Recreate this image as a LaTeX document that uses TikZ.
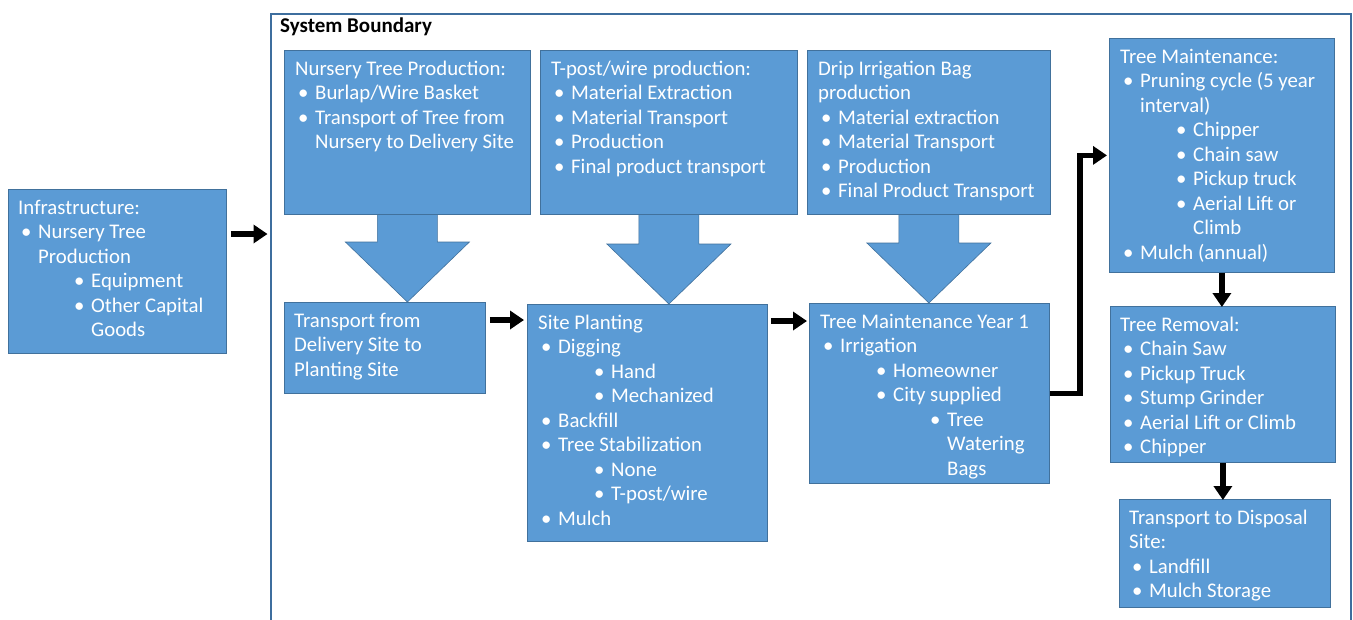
\documentclass[tikz,border=0pt]{standalone}
\usepackage{fontspec}
\setmainfont{Carlito}
\usetikzlibrary{arrows.meta,calc}
\definecolor{boxblue}{HTML}{5B9BD5}
\definecolor{boxedge}{HTML}{41719C}
\definecolor{bnd}{HTML}{3D6E9E}
\pgfdeclarelayer{background}
\pgfsetlayers{background,main}
\newcommand{\Ba}{\hspace*{3pt}\makebox[17pt][l]{•}}
\newcommand{\Ca}{\hspace*{20pt}}
\newcommand{\Bb}{\hspace*{56pt}\makebox[17pt][l]{•}}
\newcommand{\Cb}{\hspace*{73pt}}
\newcommand{\Bc}{\hspace*{110pt}\makebox[17pt][l]{•}}
\newcommand{\Cc}{\hspace*{127pt}}
\newcommand{\fstrut}{\rule{0pt}{16pt}}
\begin{document}
\begin{tikzpicture}[x=1pt,y=-1pt,
  box/.style={draw=boxedge, fill=boxblue, anchor=north west, inner sep=0pt, line width=0.8pt},
  txt/.style={anchor=north west, inner sep=0pt, align=left, text=white, font=\fontsize{20.8}{24.5}\selectfont},
  conn/.style={line width=5.5pt, black, -{Triangle[length=14pt,width=18pt]}},
  barrow/.style={fill=boxblue, draw=boxedge, line width=0.6pt}]
\useasboundingbox (0,0) rectangle (1353,619);

% system boundary
\node[draw=bnd, line width=2.8pt, anchor=north west, minimum width=1080pt, minimum height=640pt, inner sep=0pt] (boundary) at (269.5,12.5) {};
\node[anchor=west, inner sep=0pt, font=\bfseries\fontsize{21}{25}\selectfont] (title) at (280,27) {System Boundary};

% boxes
\node[box, minimum width=218pt, minimum height=164pt] (infra) at (8,189) {};
\node[box, minimum width=246pt, minimum height=164pt] (nursery) at (284,50) {};
\node[box, minimum width=257pt, minimum height=164pt] (tpost) at (540,50) {};
\node[box, minimum width=243pt, minimum height=164pt] (drip) at (807,50) {};
\node[box, minimum width=225pt, minimum height=234pt] (tm) at (1109,38) {};
\node[box, minimum width=201pt, minimum height=91pt] (trans) at (284,302) {};
\node[box, minimum width=240pt, minimum height=237pt] (site) at (527,304) {};
\node[box, minimum width=240pt, minimum height=180pt] (tmy) at (809,303) {};
\node[box, minimum width=225pt, minimum height=156pt] (rem) at (1110,306) {};
\node[box, minimum width=211pt, minimum height=108pt] (disp) at (1119,499) {};

% texts
\node[txt] (infra-t) at ([shift={(10,9)}]infra.north west) {\fstrut Infrastructure:\\
\Ba Nursery Tree\\ \Ca Production\\ \Bb Equipment\\ \Bb Other Capital\\ \Cb Goods};
\node[txt] (nursery-t) at ([shift={(11,9)}]nursery.north west) {\fstrut Nursery Tree Production:\\
\Ba Burlap/Wire Basket\\ \Ba Transport of Tree from\\ \Ca Nursery to Delivery Site};
\node[txt] (tpost-t) at ([shift={(11,9)}]tpost.north west) {\fstrut T-post/wire production:\\
\Ba Material Extraction\\ \Ba Material Transport\\ \Ba Production\\ \Ba Final product transport};
\node[txt] (drip-t) at ([shift={(11,9)}]drip.north west) {\fstrut Drip Irrigation Bag\\ production\\
\Ba Material extraction\\ \Ba Material Transport\\ \Ba Production\\ \Ba Final Product Transport};
\node[txt] (tm-t) at ([shift={(11,9)}]tm.north west) {\fstrut Tree Maintenance:\\
\Ba Pruning cycle (5 year\\ \Ca interval)\\ \Bb Chipper\\ \Bb Chain saw\\ \Bb Pickup truck\\ \Bb Aerial Lift or\\ \Cb Climb\\ \Ba Mulch (annual)};
\node[txt] (trans-t) at ([shift={(10,9)}]trans.north west) {\fstrut Transport from\\ Delivery Site to\\ Planting Site};
\node[txt] (site-t) at ([shift={(11,9)}]site.north west) {\fstrut Site Planting\\
\Ba Digging\\ \Bb Hand\\ \Bb Mechanized\\ \Ba Backfill\\ \Ba Tree Stabilization\\ \Bb None\\ \Bb T-post/wire\\ \Ba Mulch};
\node[txt] (tmy-t) at ([shift={(11,9)}]tmy.north west) {\fstrut Tree Maintenance Year 1\\
\Ba Irrigation\\ \Bb Homeowner\\ \Bb City supplied\\ \Bc Tree\\ \Cc Watering\\ \Cc Bags};
\node[txt] (rem-t) at ([shift={(10,9)}]rem.north west) {\fstrut Tree Removal:\\
\Ba Chain Saw\\ \Ba Pickup Truck\\ \Ba Stump Grinder\\ \Ba Aerial Lift or Climb\\ \Ba Chipper};
\node[txt] (disp-t) at ([shift={(10,9)}]disp.north west) {\fstrut Transport to Disposal\\ Site:\\
\Ba Landfill\\ \Ba Mulch Storage};

% block arrows
\newcommand{\bigarrow}[2]{%
 \path[barrow] ($(#1.south)+(-30,-40)$) -- ($(#1.south |- #2.north)+(-30,-60)$) -- ($(#1.south |- #2.north)+(-62,-60)$) -- (#1.south |- #2.north) -- ($(#1.south |- #2.north)+(62,-60)$) -- ($(#1.south |- #2.north)+(30,-60)$) -- ($(#1.south)+(30,-40)$) -- cycle;}
\begin{pgfonlayer}{background}
\fill[white] (0,0) rectangle (1353,619);
\bigarrow{nursery}{trans}
\bigarrow{tpost}{site}
\bigarrow{drip}{tmy}
\end{pgfonlayer}

% connectors
\coordinate (yA) at (0,234);
\coordinate (yB) at (0,320);
\coordinate (yC) at (0,321);
\draw[conn] ([xshift=4pt]infra.east |- yA) -- ([xshift=-2pt]boundary.west |- yA);
\draw[conn] ([xshift=4pt]trans.east |- yB) -- ([xshift=-3pt]site.west |- yB);
\draw[conn] ([xshift=3pt]site.east |- yC) -- ([xshift=-2pt]tmy.west |- yC);
\draw[conn] (tmy.east) -- ++(30,0) |- ([xshift=-2pt]tm.west);
\draw[conn] (tm.south) -- ([yshift=-1pt]tm.south |- rem.north);
\draw[conn] (rem.south) -- ([yshift=-1pt]rem.south |- disp.north);
\end{tikzpicture}
\end{document}
